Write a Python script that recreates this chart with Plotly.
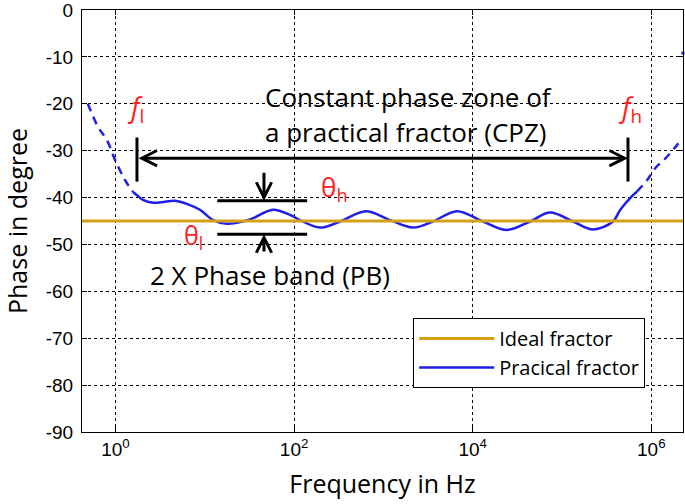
import math
import plotly.graph_objects as go

# ---------------- data ----------------
ideal_freq = [0.3, 3.0e6]
ideal_phase = [-45, -45]

# practical fractor, low-frequency (dashed) part
low_freq = [0.49, 0.64, 0.80, 0.99, 1.28, 1.57]
low_phase = [-20.0, -25.0, -27.7, -32.0, -36.3, -38.8]

# practical fractor, constant phase zone (solid)
cpz_freq = [1.57, 1.74, 2.03, 2.63, 3.58, 4.63, 6.82, 8.83, 12.4, 17.7, 26.8, 34.7,
            58.0, 90, 116, 195, 327, 638, 1186, 2145, 3592, 6668, 13030, 24210,
            43850, 73450, 132800, 222400, 372500, 446300, 624100, 691800]
cpz_phase = [-38.8, -39.5, -40.5, -41.1, -40.9, -40.7, -41.6, -42.6, -44.8, -45.6, -45.1, -44.4,
             -42.6, -43.7, -44.8, -46.4, -45.1, -42.9, -44.8, -46.4, -45.1, -42.9, -45.1, -46.9,
             -45.1, -43.2, -45.1, -46.8, -45.1, -42.7, -39.5, -38.7]

# practical fractor, high-frequency (dashed) part
high_freq = [691800, 895400, 1.10e6, 1.50e6, 1.94e6, 2.26e6]
high_phase = [-38.7, -36.3, -33.8, -31.3, -28.8, -27.5]

# isolated fragments of the curve visible at the plot edges
edge_freq = [0.42, 2.26e6]
edge_phase = [-4.5, -9.2]

f_low = 1.74        # f_l
f_high = 548000     # f_h
cpz_arrow_phase = -31.6
bar_top, bar_bottom = -27.2, -36.6
theta_h = -40.7
theta_l = -47.8
band_freq = [13.8, 140]
band_arrow_freq = 46

x_tickvals = [1, 100, 1e4, 1e6]
x_ticktext = ["10<sup>0</sup>", "10<sup>2</sup>", "10<sup>4</sup>", "10<sup>6</sup>"]
y_tickvals = list(range(-90, 1, 10))
y_ticktext = [str(v) for v in y_tickvals]

BLUE = "#1f1fe8"
GOLD = "#d4a017"
RED = "#ff2020"
TXT = "Open Sans"

fig = go.Figure()

fig.add_trace(go.Scatter(x=low_freq, y=low_phase, mode="lines",
                         line=dict(color=BLUE, width=2.5, dash="8px,6px", shape="spline"),
                         showlegend=False, hoverinfo="skip"))
fig.add_trace(go.Scatter(x=cpz_freq, y=cpz_phase, mode="lines", name="Pracical fractor",
                         line=dict(color=BLUE, width=2.5, shape="spline", smoothing=1.0),
                         legendrank=2))
fig.add_trace(go.Scatter(x=high_freq, y=high_phase, mode="lines",
                         line=dict(color=BLUE, width=2.5, dash="8px,6px", shape="spline"),
                         showlegend=False, hoverinfo="skip"))
fig.add_trace(go.Scatter(x=edge_freq, y=edge_phase, mode="markers",
                         marker=dict(color=BLUE, size=3, symbol="square"),
                         showlegend=False, hoverinfo="skip", cliponaxis=False))
fig.add_trace(go.Scatter(x=ideal_freq, y=ideal_phase, mode="lines", name="Ideal fractor",
                         line=dict(color=GOLD, width=3), legendrank=1))

# CPZ bars
for fb in (f_low, f_high):
    fig.add_trace(go.Scatter(x=[fb, fb], y=[bar_top, bar_bottom], mode="lines",
                             line=dict(color="black", width=3), showlegend=False, hoverinfo="skip"))
# phase band lines
for ph in (theta_h, theta_l):
    fig.add_trace(go.Scatter(x=band_freq, y=[ph, ph], mode="lines",
                             line=dict(color="black", width=3), showlegend=False, hoverinfo="skip"))

annotations = []
# CPZ double arrow
annotations.append(dict(x=math.log10(f_high), y=cpz_arrow_phase, ax=math.log10(f_low), ay=cpz_arrow_phase,
                        xref="x", yref="y", axref="x", ayref="y", text="", showarrow=True,
                        arrowhead=5, startarrowhead=5, arrowside="end+start", arrowwidth=3,
                        arrowsize=1, startarrowsize=1, arrowcolor="black", standoff=0, startstandoff=0))
# phase band arrows
annotations.append(dict(x=math.log10(band_arrow_freq), y=theta_h, ax=math.log10(band_arrow_freq), ay=-34.4,
                        xref="x", yref="y", axref="x", ayref="y", text="", showarrow=True,
                        arrowhead=5, arrowwidth=3, arrowsize=1, arrowcolor="black", standoff=0))
annotations.append(dict(x=math.log10(band_arrow_freq), y=theta_l, ax=math.log10(band_arrow_freq), ay=-51.8,
                        xref="x", yref="y", axref="x", ayref="y", text="", showarrow=True,
                        arrowhead=5, arrowwidth=3, arrowsize=1, arrowcolor="black", standoff=0))

# texts
annotations.append(dict(x=1.652, y=-18.6, xref="x", yref="y", xanchor="left", yanchor="middle",
                        text="Constant phase zone of", showarrow=False,
                        font=dict(family=TXT, size=26, color="black")))
annotations.append(dict(x=1.652, y=-26.0, xref="x", yref="y", xanchor="left", yanchor="middle",
                        text="a practical fractor (CPZ)", showarrow=False,
                        font=dict(family=TXT, size=26, color="black")))
annotations.append(dict(x=0.364, y=-56.5, xref="x", yref="y", xanchor="left", yanchor="middle",
                        text="2 X Phase band (PB)", showarrow=False,
                        font=dict(family=TXT, size=26, color="black")))
annotations.append(dict(x=0.2296, y=-21.0, xref="x", yref="y", xanchor="center", yanchor="middle",
                        text="<i>f</i><sub>l</sub>", showarrow=False,
                        font=dict(family=TXT, size=27, color=RED)))
annotations.append(dict(x=5.762, y=-21.0, xref="x", yref="y", xanchor="center", yanchor="middle",
                        text="<i>f</i><sub>h</sub>", showarrow=False,
                        font=dict(family=TXT, size=27, color=RED)))
annotations.append(dict(x=2.447, y=-37.9, xref="x", yref="y", xanchor="center", yanchor="middle",
                        text="θ<sub>h</sub>", showarrow=False,
                        font=dict(family=TXT, size=26, color=RED)))
annotations.append(dict(x=0.879, y=-48.3, xref="x", yref="y", xanchor="center", yanchor="middle",
                        text="θ<sub>l</sub>", showarrow=False,
                        font=dict(family=TXT, size=25, color=RED)))

axis_common = dict(showline=True, linecolor="black", linewidth=1, mirror="ticks",
                   ticks="inside", ticklen=5, tickcolor="black",
                   showgrid=True, gridcolor="black", gridwidth=1, griddash="3px,3px",
                   zeroline=False, automargin=False, ticklabeloverflow="allow",
                   tickfont=dict(family="Liberation Sans, Arial", size=19, color="black"))

fig.update_layout(
    width=685, height=504,
    margin=dict(l=82, r=2, t=10, b=72),
    paper_bgcolor="white", plot_bgcolor="white",
    xaxis=dict(type="log", range=[-0.375, 6.355], tickvals=x_tickvals, ticktext=x_ticktext,
               title=dict(text="Frequency in Hz", font=dict(family=TXT, size=25, color="black"),
                          standoff=16),
               **axis_common),
    yaxis=dict(range=[-90, 0], tickvals=y_tickvals, ticktext=y_ticktext, ticklabelstandoff=4,
               title=dict(text="Phase in degree", font=dict(family=TXT, size=25, color="black"),
                          standoff=15),
               **axis_common),
    legend=dict(x=0.551, y=0.27, xanchor="left", yanchor="top",
                bgcolor="white", bordercolor="black", borderwidth=1,
                font=dict(family=TXT, size=20, color="black"),
                itemwidth=75, tracegroupgap=0),
    annotations=annotations,
    showlegend=True,
)

fig.write_html("out.html", config={"displayModeBar": False},
               post_script="document.body.style.margin='0';document.body.style.padding='0';")
